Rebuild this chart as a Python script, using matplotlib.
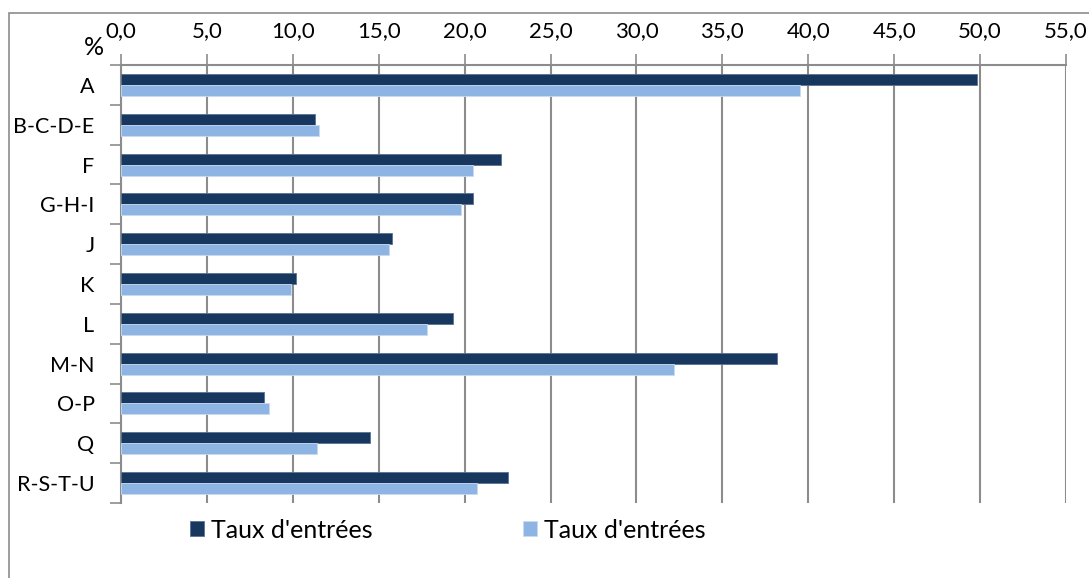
import numpy as np
import matplotlib.pyplot as plt
from matplotlib.patches import Rectangle
from matplotlib.ticker import FuncFormatter, FixedLocator

plt.rcParams['font.family'] = ['Lato', 'DejaVu Sans']

categories = ['A', 'B-C-D-E', 'F', 'G-H-I', 'J', 'K', 'L', 'M-N', 'O-P', 'Q', 'R-S-T-U']
dark_vals = [49.8, 11.3, 22.1, 20.5, 15.8, 10.2, 19.3, 38.2, 8.3, 14.5, 22.5]
light_vals = [39.5, 11.5, 20.5, 19.8, 15.6, 9.9, 17.8, 32.2, 8.6, 11.4, 20.7]
series_labels = ["Taux d'entrées", "Taux d'entrées"]
xticks = np.arange(0, 56, 5)

dark_col = '#17375E'
light_col = '#8EB4E3'
grid_col = '#8C8C8C'

fig = plt.figure(figsize=(10.89, 5.78), dpi=100)
W, H = 1089, 578
ax = fig.add_axes([121 / W, 1 - 503 / H, (1066 - 121) / W, (503 - 65) / H])

# chart area border (cut off at right and bottom)
fig.patches.append(Rectangle((9 / W, -0.1), 1.2, 1 - 13 / H + 0.1, transform=fig.transFigure,
                             fill=False, edgecolor='#8C8C8C', linewidth=1.2))

y = np.arange(len(categories))
h = 0.276
ax.barh(y - h / 2, dark_vals, height=h, color=dark_col, edgecolor='#5A7394', linewidth=0.6,
        label=series_labels[0], zorder=3)
ax.barh(y + h / 2, light_vals, height=h, color=light_col, edgecolor='#C9DBF1', linewidth=0.6,
        label=series_labels[1], zorder=3)

ax.set_xlim(0, 55)
ax.set_ylim(len(categories) - 0.5, -0.5)

ax.xaxis.tick_top()
ax.set_xticks(xticks)
ax.xaxis.set_major_formatter(FuncFormatter(lambda v, p: f'{v:.1f}'.replace('.', ',')))
ax.tick_params(axis='x', direction='out', length=8, width=1.2, color=grid_col,
               labelsize=16, pad=9)
ax.grid(axis='x', color=grid_col, linewidth=1.5, zorder=0)

ax.set_yticks(y)
ax.set_yticklabels(categories)
ax.tick_params(axis='y', which='major', length=0, labelsize=15.5, pad=19)
ax.yaxis.set_minor_locator(FixedLocator(np.arange(-0.5, len(categories), 1.0)))
ax.tick_params(axis='y', which='minor', direction='out', length=8, width=1.2, color=grid_col)

for s in ['right', 'bottom']:
    ax.spines[s].set_visible(False)
for s in ['left', 'top']:
    ax.spines[s].set_color(grid_col)
    ax.spines[s].set_linewidth(1.5)

fig.text(94 / W, 1 - 47.5 / H, '%', fontsize=18, ha='center', va='center')

fig.legend(loc='center', bbox_to_anchor=(447.5 / W, 1 - 530 / H), ncol=2, frameon=False,
           fontsize=18, handlelength=0.56, handleheight=0.56, handletextpad=0.28,
           columnspacing=6.0)

fig.savefig('out.png', dpi=100)
